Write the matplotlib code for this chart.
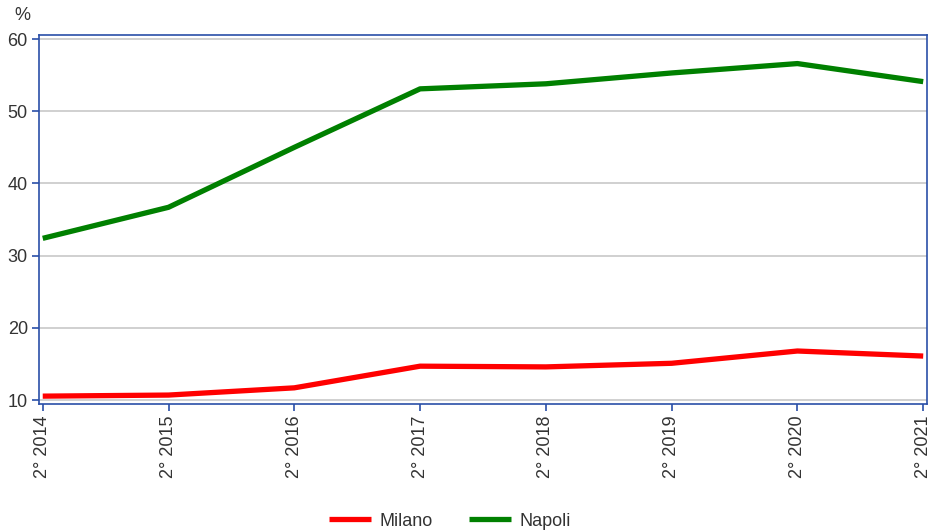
import matplotlib.pyplot as plt

plt.rcParams["font.family"] = ["Liberation Sans", "DejaVu Sans"]

# === Dati ===
anni = ["2° 2014", "2° 2015", "2° 2016", "2° 2017", "2° 2018", "2° 2019", "2° 2020", "2° 2021"]
milano = [10.55, 10.7, 11.7, 14.7, 14.6, 15.1, 16.8, 16.1]
napoli = [32.4, 36.7, 45.0, 53.1, 53.8, 55.3, 56.6, 54.1]

fig = plt.figure(figsize=(9.32, 5.31), dpi=100)
ax = fig.add_axes([0.0418, 0.239, 0.9528, 0.695])

x = list(range(len(anni)))
ax.plot(x, milano, color="#ff0000", linewidth=3.8, label="Milano", solid_capstyle="butt")
ax.plot(x, napoli, color="#008000", linewidth=3.8, label="Napoli", solid_capstyle="butt")

ax.set_xlim(-0.03, 7.03)
ax.set_ylim(9.45, 60.55)
ax.set_yticks([10, 20, 30, 40, 50, 60])
ax.set_xticks(x)
ax.set_xticklabels(anni, rotation=90)

ax.grid(True, axis="y", color="#c8c8c8", linewidth=1.2)
ax.set_axisbelow(True)
for s in ax.spines.values():
    s.set_color("#2a4fa8")
    s.set_linewidth(1.2)
ax.tick_params(colors="#2a4fa8", labelcolor="#333333", labelsize=13, length=5, width=1.2, pad=3)

fig.text(0.015, 0.962, "%", fontsize=13, color="#333333")

fig.legend(loc="lower center", ncol=2, frameon=False, fontsize=13,
           bbox_to_anchor=(0.483, -0.028), handlelength=2.3, handletextpad=0.5,
           columnspacing=2.0, labelcolor="#333333")

plt.savefig("out.png", dpi=100)
